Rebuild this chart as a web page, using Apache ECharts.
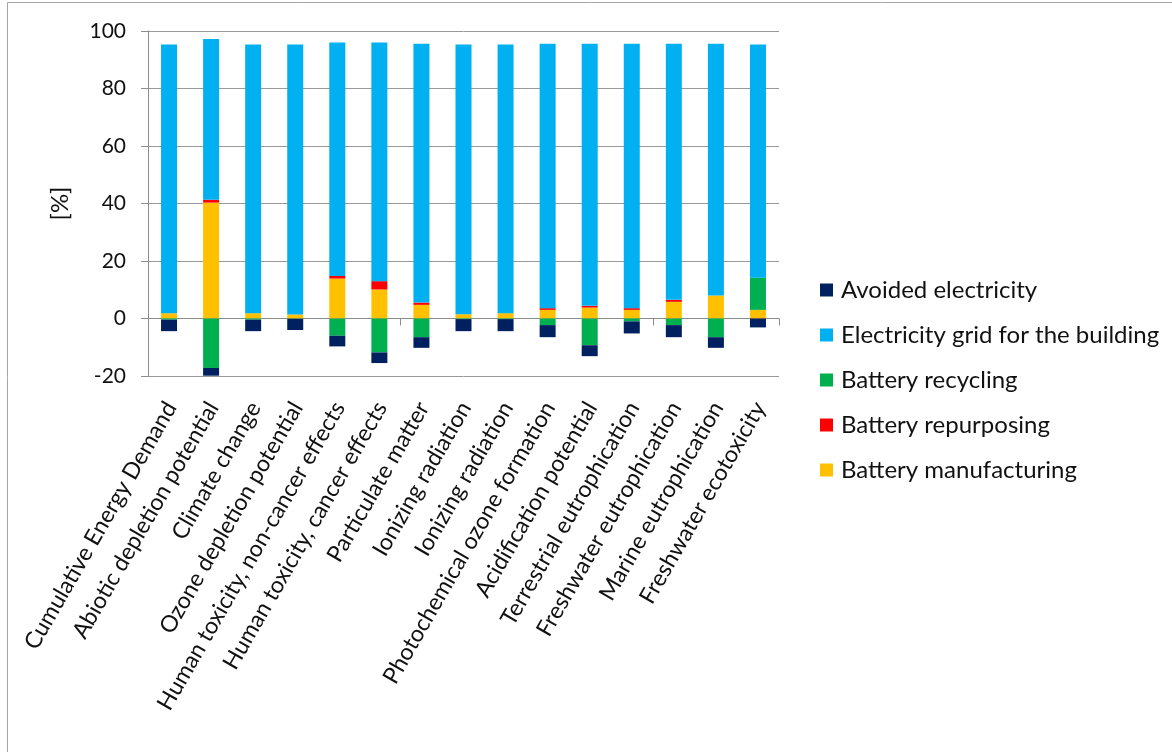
<!DOCTYPE html>
<html>
<head>
<meta charset="utf-8">
<script src="https://cdn.jsdelivr.net/npm/echarts@6/dist/echarts.min.js"></script>
<style>
html,body{margin:0;padding:0;background:#fff;}
#chart{width:1172px;height:752px;}
</style>
</head>
<body>
<div id="chart"></div>
<script>
const categories = [
  'Cumulative Energy Demand',
  'Abiotic depletion potential',
  'Climate change',
  'Ozone depletion potential',
  'Human toxicity, non-cancer effects',
  'Human toxicity, cancer effects',
  'Particulate matter',
  'Ionizing radiation',
  'Ionizing radiation',
  'Photochemical ozone formation',
  'Acidification potential',
  'Terrestrial eutrophication',
  'Freshwater eutrophication',
  'Marine eutrophication',
  'Freshwater ecotoxicity'
];
const batteryManufacturing = [1.85, 40.3, 1.85, 1.4, 13.9, 10.1, 4.75, 1.5, 1.85, 3.0, 3.8, 3.0, 5.8, 8.0, 3.0];
const batteryRepurposing   = [0, 1.0, 0, 0, 0.9, 2.9, 0.8, 0, 0, 0.6, 0.6, 0.6, 0.7, 0, 0];
const batteryRecycling     = [-0.4, -17.2, -0.4, -0.1, -6.0, -11.8, -6.5, -0.2, -0.2, -2.3, -9.3, -1.0, -2.3, -6.5, 11.2];
const electricityGrid      = [93.45, 55.9, 93.45, 93.9, 81.2, 83.0, 90.0, 93.8, 93.45, 92.0, 91.2, 92.0, 89.1, 87.6, 81.1];
const avoidedElectricity   = [-4.0, -2.7, -4.0, -3.9, -3.7, -3.7, -3.7, -4.2, -4.2, -4.2, -3.8, -4.2, -4.2, -3.7, -3.1];
const yTicks = { min: -20, max: 100, interval: 20 };
const yName = '[%]';

const FONT = 'Lato';
const TXT = '#111';
const chart = echarts.init(document.getElementById('chart'), null, {renderer: 'canvas'});

function bar(name, data, color) {
  return {
    name: name, type: 'bar', stack: 'total', data: data,
    xAxisIndex: 0, yAxisIndex: 0,
    barWidth: 16,
    itemStyle: { color: color },
    emphasis: { disabled: true },
    animation: false
  };
}

chart.setOption({
  animation: false,
  textStyle: { fontFamily: FONT },
  graphic: [{
    type: 'rect', silent: true,
    shape: { x: 7.5, y: 2.5, width: 1300, height: 900 },
    style: { fill: null, stroke: '#a6a6a6', lineWidth: 1 }
  }],
  grid: [
    { left: 148, right: 393, top: 31, bottom: 376, outerBoundsMode: 'none' },
    { left: 140, right: 401, top: 31, bottom: 376, outerBoundsMode: 'none' }
  ],
  legend: {
    orient: 'vertical',
    left: 820, top: 278, padding: 0,
    itemWidth: 13, itemHeight: 13, itemGap: 21,
    icon: 'rect',
    textStyle: { fontFamily: FONT, fontSize: 24, color: TXT, lineHeight: 24, padding: [0, 0, 0, 3] },
    data: ['Avoided electricity', 'Electricity grid for the building', 'Battery recycling', 'Battery repurposing', 'Battery manufacturing']
  },
  xAxis: [
    {
      type: 'category', gridIndex: 0, data: categories,
      axisLine: { onZero: true, lineStyle: { color: '#8c8c8c', width: 1 } },
      axisTick: { show: true, length: 7, lineStyle: { color: '#8c8c8c' } },
      axisLabel: { show: false },
      splitLine: { show: false }
    },
    {
      type: 'category', gridIndex: 1, data: categories, position: 'bottom',
      axisLine: { show: false, onZero: false },
      axisTick: { show: false },
      axisLabel: {
        show: true, interval: 0, rotate: 60, margin: 22,
        verticalAlign: 'top', align: 'right',
        fontFamily: FONT, fontSize: 23, color: TXT
      },
      splitLine: { show: false }
    }
  ],
  yAxis: [
    {
      type: 'value', gridIndex: 0, min: yTicks.min, max: yTicks.max, interval: yTicks.interval,
      name: yName, nameLocation: 'middle', nameGap: 76, nameRotate: 90,
      nameTextStyle: { fontFamily: FONT, fontSize: 24, color: TXT },
      axisLine: { show: true, lineStyle: { color: '#8c8c8c' } },
      axisTick: { show: true, length: 7, lineStyle: { color: '#8c8c8c' } },
      axisLabel: { fontFamily: FONT, fontSize: 21, color: TXT, margin: 22 },
      splitLine: { show: true, lineStyle: { color: '#999', width: 1 } }
    },
    {
      type: 'value', gridIndex: 1, min: yTicks.min, max: yTicks.max, interval: yTicks.interval,
      show: false, splitLine: { show: false }
    }
  ],
  series: [
    bar('Battery manufacturing', batteryManufacturing, '#FFC000'),
    bar('Battery repurposing', batteryRepurposing, '#FF0000'),
    bar('Battery recycling', batteryRecycling, '#00B050'),
    bar('Electricity grid for the building', electricityGrid, '#00B0F0'),
    bar('Avoided electricity', avoidedElectricity, '#002060')
  ]
});
</script>
</body>
</html>
